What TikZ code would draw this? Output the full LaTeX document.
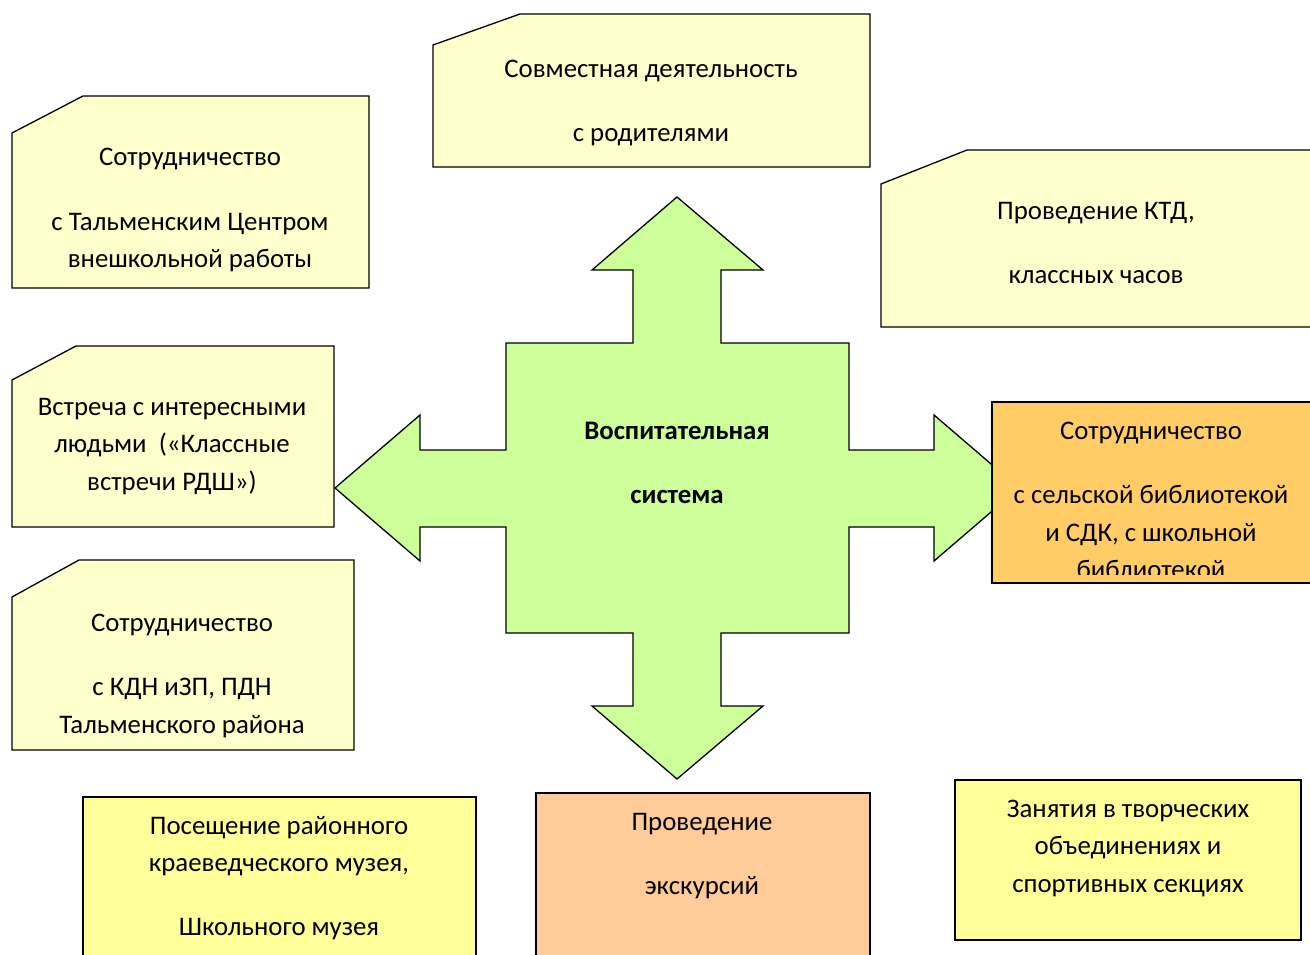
\documentclass[tikz,border=0pt]{standalone}
\usepackage{fontspec}
\setmainfont{Carlito}
\definecolor{lightyel}{HTML}{FFFFCC}
\definecolor{brightyel}{HTML}{FFFF99}
\definecolor{orangebox}{HTML}{FFCC66}
\definecolor{peachbox}{HTML}{FFCC99}
\definecolor{greenarrow}{HTML}{CCFF99}
\tikzset{
  boxline/.style={draw=black, line width=1.3pt, line join=miter},
  txt/.style={font=\fontsize{26.8}{30}\selectfont, inner sep=0pt, anchor=base},
  btxt/.style={txt, font=\fontsize{26.8}{30}\selectfont\bfseries},
}
\begin{document}
\begin{tikzpicture}[x=1pt,y=-1pt]
\useasboundingbox (0,0) rectangle (1310,955);
\begin{scope}
\clip (0,0) rectangle (1310,955);
% central cross arrow
\draw[boxline, fill=greenarrow]
  (677,197) -- (763,270) -- (721,270) -- (721,343) -- (849,343) -- (849,450)
  -- (934,450) -- (934,415) -- (1019,488) -- (934,561) -- (934,527) -- (849,527)
  -- (849,633) -- (721,633) -- (721,706) -- (763,706) -- (677,779) -- (592,706)
  -- (633,706) -- (633,633) -- (506,633) -- (506,527) -- (420,527) -- (420,561)
  -- (335,488) -- (420,415) -- (420,450) -- (506,450) -- (506,343) -- (633,343)
  -- (633,270) -- (592,270) -- cycle;
\node[btxt] (c1) at (677,439) {Воспитательная};
\node[btxt] (c2) at (677,503) {система};

% box 1: top-left
\draw[boxline, fill=lightyel] (12,133) -- (83,96) -- (369,96) -- (369,288) -- (12,288) -- cycle;
\node[txt] (b1a) at (190,166) {Сотрудничество};
\node[txt] (b1b) at (190,230) {с Тальменским Центром};
\node[txt] (b1c) at (190,267) {внешкольной работы};

% box 2: top
\draw[boxline, fill=lightyel] (433,45) -- (520,14) -- (870,14) -- (870,167) -- (433,167) -- cycle;
\node[txt] (b2a) at (651,78) {Совместная деятельность};
\node[txt] (b2b) at (651,142) {с родителями};

% box 3: top-right
\draw[boxline, fill=lightyel] (881,184) -- (967,150) -- (1320,150) -- (1320,327) -- (881,327) -- cycle;
\node[txt] (b3a) at (1096,219) {Проведение КТД,};
\node[txt] (b3b) at (1096,283) {классных часов};

% box 4: left middle
\draw[boxline, fill=lightyel] (12,380) -- (76,346) -- (334,346) -- (334,527) -- (12,527) -- cycle;
\node[txt] (b4a) at (172,415) {Встреча с интересными};
\node[txt] (b4b) at (172,452) {людьми\ \ («Классные};
\node[txt] (b4c) at (172,490) {встречи РДШ»)};

% box 5: left lower
\draw[boxline, fill=lightyel] (12,597) -- (79,560) -- (354,560) -- (354,750) -- (12,750) -- cycle;
\node[txt] (b5a) at (182,631) {Сотрудничество};
\node[txt] (b5b) at (182,695) {с КДН иЗП, ПДН};
\node[txt] (b5c) at (182,733) {Тальменского района};

% box 6: right orange
\draw[boxline, fill=orangebox] (992,402) rectangle (1320,583);
\begin{scope}
\clip (992,402) rectangle (1320,574);
\node[txt] (b6a) at (1151,439) {Сотрудничество};
\node[txt] (b6b) at (1151,503) {с сельской библиотекой};
\node[txt] (b6c) at (1151,541) {и СДК, с школьной};
\node[txt] (b6d) at (1151,578) {библиотекой};
\end{scope}

% box 7: bottom-left
\draw[boxline, fill=brightyel] (83,797) rectangle (476,970);
\node[txt] (b7a) at (279,834) {Посещение районного};
\node[txt] (b7b) at (279,871) {краеведческого музея,};
\node[txt] (b7c) at (279,935) {Школьного музея};

% box 8: bottom-center
\draw[boxline, fill=peachbox] (536,793) rectangle (870,970);
\node[txt] (b8a) at (702,830) {Проведение};
\node[txt] (b8b) at (702,894) {экскурсий};

% box 9: bottom-right
\draw[boxline, fill=brightyel] (955,780) rectangle (1301,940);
\node[txt] (b9a) at (1128,817) {Занятия в творческих};
\node[txt] (b9b) at (1128,854) {объединениях и};
\node[txt] (b9c) at (1128,892) {спортивных секциях};
\end{scope}
\end{tikzpicture}
\end{document}
